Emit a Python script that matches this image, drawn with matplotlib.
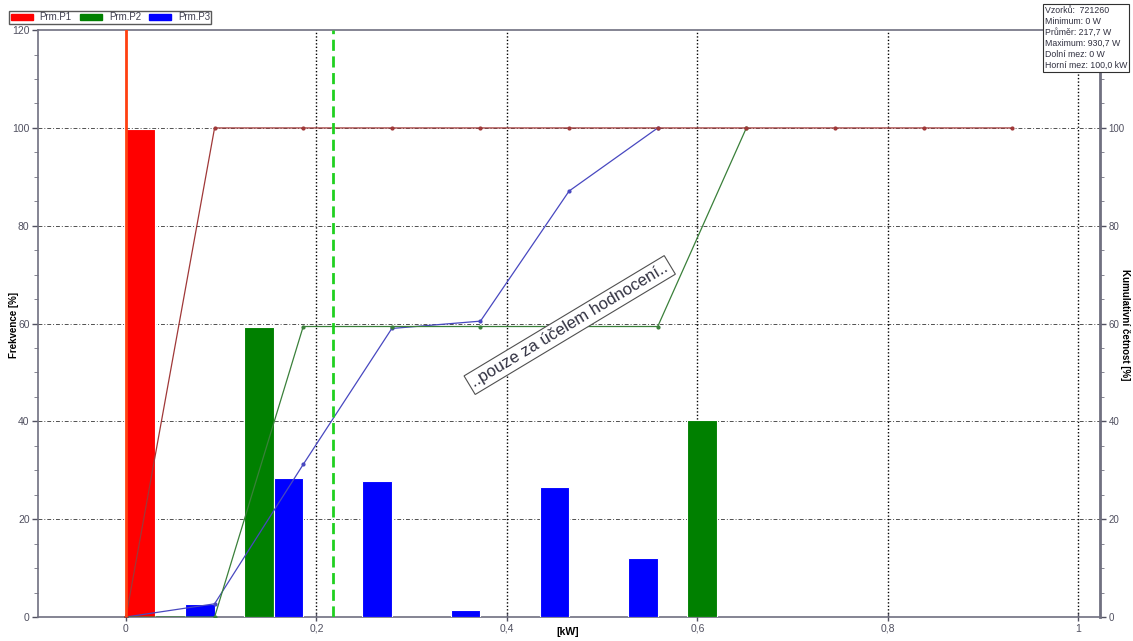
import matplotlib.pyplot as plt
from matplotlib.patches import Patch

plt.rcParams['font.family'] = ['Liberation Sans', 'DejaVu Sans']

# histogram data: 10 bins of 93.07 W, three phases per bin
bin_width = 0.09307
p1_freq = [99.7, 0, 0, 0, 0, 0, 0, 0, 0, 0]
p2_freq = [0, 59.4, 0, 0, 0, 0, 40.2, 0, 0, 0]
p3_freq = [2.7, 28.5, 27.8, 1.5, 26.6, 12.0, 0, 0, 0, 0]

# cumulative frequencies at the bin edges
p1_cum = [0, 100, 100, 100, 100, 100, 100, 100, 100, 100, 100]
p2_cum = [0, 0, 59.4, 59.4, 59.4, 59.4, 59.4, 100]
p3_cum = [0, 2.7, 31.2, 59.0, 60.5, 87.1, 100]

mean_kw = 0.2177
lower_kw = 0.0

xticks = [0, 0.2, 0.4, 0.6, 0.8, 1.0]
xticklabels = ["0", "0,2", "0,4", "0,6", "0,8", "1"]
yticks = [0, 20, 40, 60, 80, 100, 120]

stats = ["Vzorků:  721260", "Minimum: 0 W", "Průměr: 217,7 W", "Maximum: 930,7 W",
         "Dolní mez: 0 W", "Horní mez: 100,0 kW"]

fig = plt.figure(figsize=(11.33, 6.41), dpi=100)
ax = fig.add_axes([0.0335, 0.0374, 0.9375, 0.9156])

axis_col = "#707080"
sub = bin_width / 3
for i in range(len(p1_freq)):
    left = i * bin_width
    if p1_freq[i] > 0:
        ax.bar(left, p1_freq[i], width=sub, align="edge", color="#ff0000",
               edgecolor="white", linewidth=0.8, zorder=3)
    if p2_freq[i] > 0:
        ax.bar(left + sub, p2_freq[i], width=sub, align="edge", color="#008000",
               edgecolor="white", linewidth=0.8, zorder=3)
    if p3_freq[i] > 0:
        ax.bar(left + 2 * sub, p3_freq[i], width=sub, align="edge", color="#0000ff",
               edgecolor="white", linewidth=0.8, zorder=3)

edges1 = [k * bin_width for k in range(len(p1_cum))]
edges2 = [k * bin_width for k in range(len(p2_cum))]
edges3 = [k * bin_width for k in range(len(p3_cum))]
ax.plot(edges3, p3_cum, color="#4848c0", lw=0.9, marker="o", ms=2, zorder=4)
ax.plot(edges2, p2_cum, color="#3a803a", lw=0.9, marker="o", ms=2, zorder=4)
ax.plot(edges1, p1_cum, color="#a03838", lw=0.9, marker="o", ms=2, zorder=4)

# limits / mean markers
ax.axvline(lower_kw, color="#ff4010", lw=2, zorder=5)
ax.axvline(mean_kw, color="#20d020", lw=2, ls=(0, (4, 2)), zorder=5)

# grid
for y in yticks[1:-1]:
    ax.axhline(y, color="#505050", lw=0.7, ls=(0, (4, 2, 1, 2)), zorder=1)
for x in xticks[1:]:
    ax.axvline(x, color="#000000", lw=1, ls=(0, (1, 1.5)), zorder=1)

ax.set_xlim(-0.0924, 1.023)
ax.set_ylim(0, 120)
ax.set_xticks(xticks)
ax.set_xticklabels(xticklabels)
ax.set_yticks(yticks)
ax.set_yticks(range(0, 121, 5), minor=True)
ax.tick_params(labelsize=7.5, colors="#505060", length=4, width=1, pad=2)
ax.tick_params(which="minor", length=3, color=axis_col)
ax.tick_params(axis="x", length=6, direction="inout")
for s in ax.spines.values():
    s.set_color(axis_col)
    s.set_linewidth(1.2)
ax.spines["right"].set_visible(False)

ax2 = ax.twinx()
ax2.set_ylim(0, 120)
ax2.set_yticks(yticks[:-1])
ax2.set_yticks(range(0, 121, 5), minor=True)
ax2.tick_params(labelsize=7, colors="#505060", length=4, width=1, pad=2)
ax2.tick_params(which="minor", length=3, color=axis_col)
for s in ax2.spines.values():
    s.set_visible(False)
ax2.spines["right"].set_visible(True)
ax2.spines["right"].set_color(axis_col)
ax2.spines["right"].set_linewidth(2)

# axis titles placed by hand, as in the original
fig.text(568 / 1133, 1 - 632 / 641, "[kW]", fontsize=7.5, fontweight="bold", ha="center", va="center")
fig.text(14 / 1133, 1 - 325 / 641, "Frekvence [%]", fontsize=7, fontweight="bold", rotation=90,
         ha="center", va="center")
fig.text(1125 / 1133, 1 - 325 / 641, "Kumulativní četnost [%]", fontsize=7, fontweight="bold",
         rotation=270, ha="center", va="center")

ax.text(0.466, 59.7, "..pouze za účelem hodnocení..", rotation=31, fontsize=12, color="#303040",
        ha="center", va="center", rotation_mode="anchor", zorder=6,
        bbox=dict(facecolor="white", edgecolor="#505050", lw=0.8, boxstyle="square,pad=0.2"))

handles = [Patch(color="#ff0000"), Patch(color="#008000"), Patch(color="#0000ff")]
leg = fig.legend(handles, ["Prm.P1", "Prm.P2", "Prm.P3"], ncol=3, loc="upper left",
                 bbox_to_anchor=(0.008, 0.983), fontsize=7, frameon=True, fancybox=False,
                 handlelength=2.3, handleheight=0.6, borderpad=0.15, columnspacing=0.8,
                 handletextpad=0.7, borderaxespad=0)
leg.get_frame().set_edgecolor("#303030")
for t in leg.get_texts():
    t.set_color("#404050")

fig.text(1045 / 1133, 1 - 6 / 641, "\n".join(stats), fontsize=6.3, va="top", ha="left", color="#303040",
         linespacing=1.28,
         bbox=dict(facecolor="white", edgecolor="#303030", lw=0.8, boxstyle="square,pad=0.2"))

fig.savefig("out.png", dpi=100)
